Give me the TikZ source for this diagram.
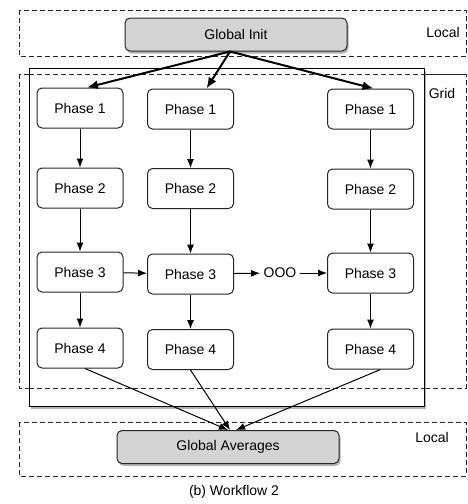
\documentclass[tikz,border=0pt]{standalone}
\usepackage{fontspec}
\setmainfont{Liberation Sans}
\usetikzlibrary{shadows,arrows.meta}
\tikzset{
  phase/.style={draw=black!85, line width=1pt, rounded corners=5pt, minimum width=86pt, minimum height=40pt, fill=white, font=\fontsize{14}{16}\selectfont},
  global/.style={phase, fill=black!17, minimum width=222pt, minimum height=33pt, drop shadow={shadow xshift=1.5pt, shadow yshift=-2.5pt, opacity=.6}},
  zone/.style={draw=black!85, line width=1pt, dash pattern=on 5pt off 3pt},
  lbl/.style={font=\fontsize{14}{16}\selectfont},
  flow/.style={-{Latex[length=9pt,width=7pt]}, line width=1pt},
  spread/.style={-{Latex[length=11pt,width=9pt]}, line width=2pt},
}
\begin{document}
\begin{tikzpicture}[x=1pt,y=-1pt]
  \useasboundingbox (0,0) rectangle (468,504);
  % local / grid zones
  \draw[zone] (19,10) rectangle (466,56);
  \draw[zone] (19,74) rectangle (466,388);
  \draw[zone] (19,422) rectangle (466,476);
  \node[lbl] at (443,32) {Local};
  \node[lbl] at (442,93) {Grid};
  \node[lbl] at (432,437) {Local};
  % grid frame
  \draw[line width=1pt, fill=white, drop shadow={shadow xshift=2pt, shadow yshift=-3pt, opacity=.6}] (29,68) rectangle (424,406);
  \draw[zone] (29,74) -- (466,74);
  \draw[zone] (29,388) -- (424,388);
  % nodes
  \node[global] (init) at (236,34.5) {Global Init};
  \node[global] (avg) at (228,447) {Global Averages};
  \node[phase] (p11) at (80,108) {Phase 1};
  \node[phase] (p12) at (80,188) {Phase 2};
  \node[phase] (p13) at (80,272) {Phase 3};
  \node[phase] (p14) at (80,348) {Phase 4};
  \node[phase] (p21) at (190.5,109) {Phase 1};
  \node[phase] (p22) at (190.5,188.5) {Phase 2};
  \node[phase] (p23) at (190.5,274) {Phase 3};
  \node[phase] (p24) at (190.5,349.5) {Phase 4};
  \node[phase] (p31) at (370.5,109) {Phase 1};
  \node[phase] (p32) at (370.5,189) {Phase 2};
  \node[phase] (p33) at (370.5,273) {Phase 3};
  \node[phase] (p34) at (370.5,349) {Phase 4};
  \node[lbl] (dots) at (280,273) {OOO};
  % arrows
  \draw[spread] ([xshift=-6pt]init.south) -- ([xshift=7pt]p11.north);
  \draw[spread] ([xshift=-6pt]init.south) -- ([xshift=16pt]p21.north);
  \draw[spread] ([xshift=-6pt]init.south) -- ([xshift=3pt]p31.north);
  \foreach \c in {1,2,3}{
    \draw[flow] (p\c1) -- (p\c2);
    \draw[flow] (p\c2) -- (p\c3);
    \draw[flow] (p\c3) -- (p\c4);
  }
  \draw[flow] (p13) -- (p23);
  \draw[flow] (p23) -- (dots);
  \draw[flow] (dots) -- (p33);
  \draw[flow] ([xshift=5pt]p14.south) -- ([xshift=0pt]avg.north);
  \draw[flow] (p24.south) -- ([xshift=2pt]avg.north);
  \draw[flow] ([xshift=10pt]p34.south) -- ([xshift=8pt]avg.north);
  \node[lbl] at (234,492) {(b) Workflow 2};
\end{tikzpicture}
\end{document}
